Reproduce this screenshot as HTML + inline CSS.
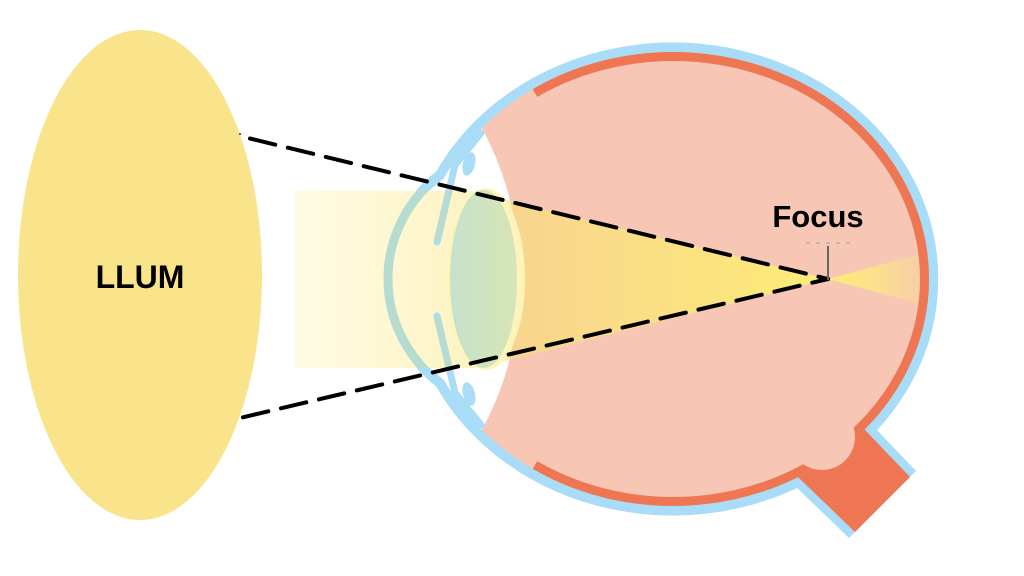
<!DOCTYPE html>
<html>
<head>
<meta charset="utf-8">
<style>
  html,body{margin:0;padding:0;background:#ffffff;}
  body{width:1024px;height:576px;overflow:hidden;}
  svg{display:block;}
  text{font-family:"Liberation Sans", Arial, sans-serif;font-weight:bold;fill:#000;}
</style>
</head>
<body>
<svg width="1024" height="576" viewBox="0 0 1024 576" xmlns="http://www.w3.org/2000/svg">
  <defs>
    <clipPath id="pc">
      <path clip-rule="evenodd" d="M0,0 H1024 V576 H0 Z M-117,279 a318.5,318.5 0 1,0 637,0 a318.5,318.5 0 1,0 -637,0 Z"/>
    </clipPath>
    <clipPath id="beamclip">
      <rect x="290" y="190" width="250" height="178"/>
    </clipPath>
    <linearGradient id="pale" gradientUnits="userSpaceOnUse" x1="295" y1="0" x2="540" y2="0">
      <stop offset="0" stop-color="#fffbe4"/>
      <stop offset="0.7" stop-color="#fdf4c4"/>
      <stop offset="1" stop-color="#fbeaa8"/>
    </linearGradient>
    <linearGradient id="cone" gradientUnits="userSpaceOnUse" x1="500" y1="0" x2="828" y2="0">
      <stop offset="0" stop-color="#f8d490"/>
      <stop offset="0.3" stop-color="#f9db89"/>
      <stop offset="0.65" stop-color="#fbe47f"/>
      <stop offset="1" stop-color="#fdec77"/>
    </linearGradient>
    <linearGradient id="post" gradientUnits="userSpaceOnUse" x1="828" y1="0" x2="920" y2="0">
      <stop offset="0" stop-color="#fdee76"/>
      <stop offset="0.5" stop-color="#fbe08c"/>
      <stop offset="1" stop-color="#f8cea8"/>
    </linearGradient>
    <linearGradient id="lensg" gradientUnits="userSpaceOnUse" x1="450" y1="0" x2="517" y2="0">
      <stop offset="0" stop-color="#c6e1cc"/>
      <stop offset="1" stop-color="#d7e5b6"/>
    </linearGradient>
  </defs>

  <!-- Light source -->
  <ellipse cx="140" cy="275" rx="122" ry="245" fill="#f9e38b"/>
  <text x="140" y="288" font-size="32" text-anchor="middle">LLUM</text>

  <!-- Eye outer blue ring + cornea -->
  <path d="M440,383 A130,130 0 0 1 440,175 A260.5,231.5 0 1 1 440,383 Z" fill="none" stroke="#a8dcf7" stroke-width="10"/>

  <!-- Optic nerve -->
  <polygon points="851,403 916,471 849,538 767,459" fill="#a8dcf7"/>
  <polygon points="845,409 910,477 855,532 773,453" fill="#ee7653"/>

  <!-- Pale beam (over white) -->
  <polygon points="295,190 470,191 828,279 477,368 295,368" fill="url(#pale)"/>

  <!-- Pink interior + beam cone over pink -->
  <g clip-path="url(#pc)">
    <ellipse cx="673" cy="279" rx="256" ry="227" fill="#f7c6b4"/>
    <polygon points="470,191 828,279 477,368" fill="url(#cone)"/>
    <polygon points="828,279 921,254 921,304" fill="url(#post)"/>
  </g>

  <!-- Orange retina band -->
  <path d="M535,93 A251.5,222.5 0 1 1 535,465" fill="none" stroke="#ee7653" stroke-width="9"/>

  <!-- Optic disc bump -->
  <circle cx="822" cy="437" r="33" fill="#f7c6b4"/>

  <!-- Iris (blue) -->
  <g stroke="#a8dcf7" stroke-width="7" stroke-linecap="round" fill="none" stroke-linejoin="round">
    <path d="M437,242 L455,165 L481,133"/>
    <path d="M437,316 L455,393 L481,425"/>
  </g>
  <ellipse cx="469" cy="164" rx="6" ry="12" fill="#a8dcf7" transform="rotate(15 469 164)"/>
  <ellipse cx="469" cy="394" rx="6" ry="12" fill="#a8dcf7" transform="rotate(-15 469 394)"/>

  <!-- Lens -->
  <ellipse cx="486" cy="279" rx="39" ry="91" fill="#fdf4bb"/>
  <ellipse cx="483.5" cy="279" rx="33.5" ry="89" fill="url(#lensg)"/>

  <!-- Cornea & iris inside the beam (tinted) -->
  <g clip-path="url(#beamclip)">
    <path d="M440,383 A130,130 0 0 1 440,175" fill="none" stroke="#b6dcd2" stroke-width="9"/>
    <g stroke="#b6dcd2" stroke-width="7" stroke-linecap="butt" fill="none">
      <path d="M437,242 L455,165"/>
      <path d="M437,316 L455,393"/>
    </g>
  </g>

  <!-- Dashed rays -->
  <g stroke="#000" stroke-width="4" stroke-linecap="round" fill="none" stroke-dasharray="26 13">
    <path d="M250,138.5 L828,279"/>
    <path d="M243,417.3 L828,279"/>
  </g>
  <circle cx="240" cy="134" r="1" fill="#333"/>

  <!-- Focus marker -->
  <line x1="806" y1="243" x2="852" y2="243" stroke="#aaa" stroke-width="1.2" stroke-dasharray="4 6"/>
  <line x1="828" y1="246" x2="828" y2="280" stroke="#666" stroke-width="2"/>
  <text x="818" y="227" font-size="31" text-anchor="middle">Focus</text>
</svg>
</body>
</html>
